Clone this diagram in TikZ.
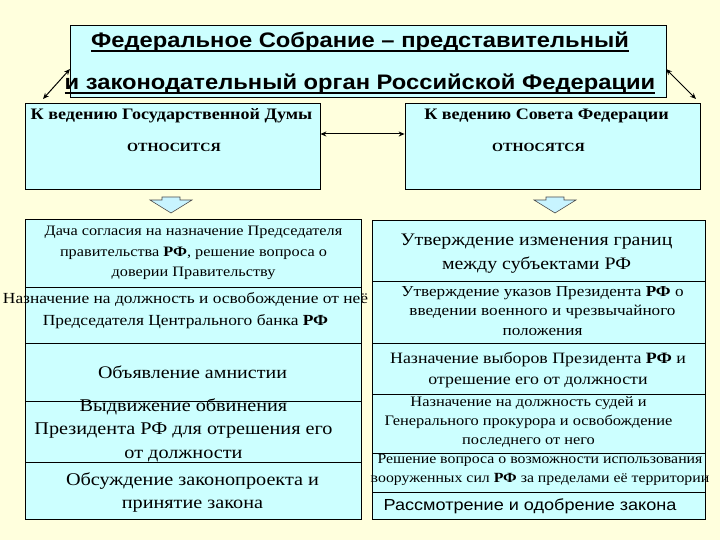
\documentclass[tikz,border=0pt]{standalone}
\usepackage{fontspec}
\setmainfont{Liberation Serif}[FakeStretch=1.13]
\setsansfont{Liberation Sans}[FakeStretch=1.13]
\usetikzlibrary{arrows.meta}
\definecolor{bgy}{HTML}{FFFFDD}
\definecolor{cellc}{HTML}{CCFFFF}
\definecolor{arrc}{HTML}{C8F4FF}
\tikzset{
  cell/.style={draw=black, line width=0.8pt, fill=cellc, rectangle, inner sep=0pt},
  txt/.style={align=center, inner sep=0pt, text=black},
  link/.style={line width=1pt, {Stealth[length=6pt,width=5pt]}-{Stealth[length=6pt,width=5pt]}},
  blockarr/.style={draw=black!70, line width=0.6pt, fill=arrc},
}
\newcommand{\fs}[2]{\fontsize{#1}{#2}\selectfont}
\newcommand{\ulin}[1]{\setbox0\hbox{#1}\rlap{\copy0}\rule[-4.2pt]{\wd0}{1.8pt}}
\begin{document}
\begin{tikzpicture}[x=1pt,y=-1pt]
\useasboundingbox (0,0) rectangle (720,540);
\fill[bgy] (0,0) rectangle (720,540);
% top box
\node[cell, minimum width=596pt, minimum height=72pt] (top) at (368,61) {};
\node[txt, font=\sffamily\bfseries\fs{21}{26}] (topt1) at (360,42) {\ulin{Федеральное Собрание – представительный}};
\node[txt, font=\sffamily\bfseries\fs{21}{26}] (topt2) at (360,84) {\ulin{и законодательный орган Российской Федерации}};
% second row
\node[cell, minimum width=295pt, minimum height=86pt] (gd) at (172.5,146) {};
\node[cell, minimum width=295pt, minimum height=86pt] (sf) at (552.5,146) {};
\node[txt, font=\bfseries\fs{16}{20}] (gdt) at (171.5,116) {К ведению Государственной Думы};
\node[txt, font=\bfseries\fs{12.5}{16}] (gdt2) at (174,147) {\MakeUppercase{относится}};
\node[txt, font=\bfseries\fs{16}{20}] (sft) at (546.5,116) {К ведению Совета Федерации};
\node[txt, font=\bfseries\fs{12.5}{16}] (sft2) at (538.5,147) {\MakeUppercase{относятся}};
\coordinate (tl) at (70,69);
\coordinate (tr) at (666,69);
\coordinate (gdc) at (43,99);
\coordinate (sfc) at (696,99);
\draw[link] (tl) -- (gdc);
\draw[link] (tr) -- (sfc);
\draw[link] (gd.east |- 0,134) -- (sf.west |- 0,134);
% block arrows
\foreach \cx/\nm in {171/la, 555/ra}{
  \draw[blockarr] (\cx-9,197) -- (\cx+9,197) -- (\cx+9,200) -- (\cx+21,200) -- (\cx,213) -- (\cx-21,200) -- (\cx-9,200) -- cycle;
}
% left column cells
\node[cell, minimum width=336pt, minimum height=68pt] (l1) at (193,253) {};
\node[cell, minimum width=336pt, minimum height=56pt] (l2) at (193,315) {};
\node[cell, minimum width=336pt, minimum height=58pt] (l3) at (193,372) {};
\node[cell, minimum width=336pt, minimum height=61pt] (l4) at (193,431.5) {};
\node[cell, minimum width=336pt, minimum height=57pt] (l5) at (193,490.5) {};
% right column cells
\node[cell, minimum width=333pt, minimum height=61pt] (r1) at (538.5,250.5) {};
\node[cell, minimum width=333pt, minimum height=62pt] (r2) at (538.5,312) {};
\node[cell, minimum width=333pt, minimum height=51pt] (r3) at (538.5,368.5) {};
\node[cell, minimum width=333pt, minimum height=59pt] (r4) at (538.5,423.5) {};
\node[cell, minimum width=333pt, minimum height=39pt] (r5) at (538.5,472.5) {};
\node[cell, minimum width=333pt, minimum height=27pt] (r6) at (538.5,505.5) {};
% left texts
\node[txt, font=\fs{14.4}{20.5}] (l1t) at (193.5,253) {Дача согласия на назначение Председателя\\правительства \textbf{РФ}, решение вопроса о\\доверии Правительству};
\node[txt, font=\fs{15.4}{22}] (l2t) at (185.5,311) {Назначение на должность и освобождение от неё\\Председателя Центрального банка \textbf{РФ}};
\node[txt, font=\fs{17.7}{20}] (l3t) at (192.5,372) {Объявление амнистии};
\node[txt, font=\fs{17.9}{23.5}] (l4t) at (183.5,430) {Выдвижение обвинения\\Президента РФ для отрешения его\\от должности};
\node[txt, font=\fs{17.9}{23.5}] (l5t) at (192.5,492.5) {Обсуждение законопроекта и\\принятие закона};
% right texts
\node[txt, font=\fs{17.6}{24}] (r1t) at (536.5,254) {Утверждение изменения границ\\между субъектами РФ};
\node[txt, font=\fs{15.2}{19.5}] (r2t) at (542.5,311) {Утверждение указов Президента \textbf{РФ} о\\введении военного и чрезвычайного\\положения};
\node[txt, font=\fs{15.8}{21}] (r3t) at (538,370.5) {Назначение выборов Президента \textbf{РФ} и\\отрешение его от должности};
\node[txt, font=\fs{14.5}{19}] (r4t) at (528.5,422) {Назначение на должность судей и\\Генерального прокурора и освобождение\\последнего от него};
\node[txt, font=\fs{14}{19}] (r5t) at (540,469.5) {Решение вопроса о возможности использования\\вооруженных сил \textbf{РФ} за пределами её территории};
\node[txt, font=\sffamily\fs{16}{20}] (r6t) at (530,506) {Рассмотрение и одобрение закона};
\end{tikzpicture}
\end{document}
